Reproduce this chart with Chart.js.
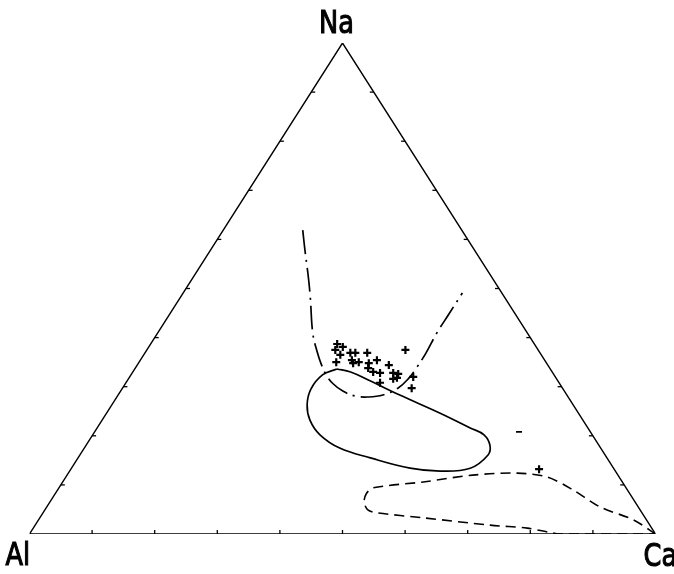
<!DOCTYPE html>
<html>
<head>
<meta charset="utf-8">
<script src="https://cdn.jsdelivr.net/npm/chart.js@4/dist/chart.umd.min.js"></script>
<style>
  html, body { margin: 0; padding: 0; background: #fff; }
  canvas { display: block; }
</style>
</head>
<body>
<canvas id="c" width="674" height="574"></canvas>
<script>
// Ternary diagram: Na (apex), Al (bottom-left), Ca (bottom-right). Values in %.
const vertexLabels = ["Na", "Al", "Ca"];
const tickValues = [10, 20, 30, 40, 50, 60, 70, 80, 90];

// Samples (crosses): Na % and Ca % (Al = 100 - Na - Ca)
const samplesNa = [38.7, 38.1, 37.5, 36.5, 35.0, 36.9, 36.9, 35.4, 34.8, 35.0, 36.9, 34.8, 35.4,
                   33.8, 33.0, 32.8, 34.4, 30.8, 32.8, 32.6, 31.6, 31.8, 37.5, 32.0, 29.7, 13.2];
const samplesCa = [29.8, 31.0, 30.1, 31.4, 31.5, 32.8, 33.6, 33.8, 34.3, 35.1, 35.5, 36.8, 37.8,
                   37.2, 38.4, 39.6, 40.2, 40.6, 41.7, 42.6, 42.3, 42.8, 41.3, 45.3, 46.2, 74.8];
// Single sample drawn as a short dash
const dashNa = [20.8];
const dashCa = [67.8];

// Solid closed field
const fieldNa = [33.6, 33.0, 31.2, 28.3, 24.6, 21.6, 20.2, 18.1, 16.1, 13.4, 12.8, 13.4, 15.5,
                 17.5, 20.2, 23.2, 26.3, 29.5, 32.4, 33.6];
const fieldCa = [32.3, 34.8, 38.8, 45.0, 53.3, 59.6, 62.5, 64.5, 65.2, 63.7, 59.2, 54.1, 46.7,
                 40.8, 36.3, 33.2, 31.2, 30.2, 30.6, 32.3];

// Dash-dot U-shaped trend
const trendNa = [61.9, 57.8, 52.8, 48.3, 40.9, 37.1, 34.6, 32.4, 30.6, 29.1, 28.1, 27.9, 28.3,
                 29.7, 31.6, 34.0, 36.9, 40.9, 44.6, 49.1];
const trendCa = [12.7, 15.1, 18.1, 20.7, 24.8, 27.4, 29.3, 31.2, 33.2, 35.5, 38.0, 40.1, 42.3,
                 44.0, 44.7, 44.9, 44.9, 44.6, 44.6, 44.6];

// Dashed closed field near Ca
const dashedNa = [0, 2.9, 5.5, 9.0, 11.6, 12.4, 12.0, 10.6, 9.4, 8.2, 6.5, 4.9, 4.3, 3.3, 1.8,
                  1.2, 0.4, 0, 0];
const dashedCa = [100, 95.0, 88.4, 82.3, 76.9, 71.7, 64.8, 57.6, 50.2, 49.7, 50.2, 51.6, 53.4,
                  61.2, 72.7, 78.9, 82.6, 84.7, 100];

function toXY(na, ca) { return { x: ca + na / 2, y: na }; }
function series(naArr, caArr) { return naArr.map((na, i) => toXY(na, caArr[i])); }

const triangle = [toXY(0, 0), toXY(0, 100), toXY(100, 0), toXY(0, 0)];

function label(ctx, text, x, y, align) {
  ctx.save();
  ctx.translate(x, y);
  ctx.scale(0.8, 1);
  ctx.textAlign = align;
  ctx.fillText(text, 0, 0);
  ctx.lineWidth = 1.2;
  ctx.strokeText(text, 0, 0);
  ctx.restore();
}

const decor = {
  id: 'decor',
  afterDatasetsDraw(chart) {
    const ctx = chart.ctx, xs = chart.scales.x, ys = chart.scales.y;
    const P = (p) => [xs.getPixelForValue(p.x), ys.getPixelForValue(p.y)];
    ctx.save();
    ctx.strokeStyle = '#000';
    ctx.lineWidth = 1.3;
    const L = 4;
    tickValues.forEach(t => {
      let [bx, by] = P(toXY(0, t));
      ctx.beginPath(); ctx.moveTo(bx, by); ctx.lineTo(bx, by - L); ctx.stroke();
      let [lx, ly] = P(toXY(t, 0));
      ctx.beginPath(); ctx.moveTo(lx, ly); ctx.lineTo(lx + L, ly); ctx.stroke();
      let [rx, ry] = P(toXY(t, 100 - t));
      ctx.beginPath(); ctx.moveTo(rx, ry); ctx.lineTo(rx - L, ry); ctx.stroke();
    });
    ctx.fillStyle = '#000';
    ctx.font = '32px "DejaVu Sans", sans-serif';
    ctx.textBaseline = 'alphabetic';
    const [nx, ny] = P(toXY(100, 0));
    label(ctx, vertexLabels[0], nx - 6, ny - 10, 'center');
    const [ax, ay] = P(toXY(0, 0));
    label(ctx, vertexLabels[1], ax - 24, ay + 31, 'left');
    const [cx, cy] = P(toXY(0, 100));
    label(ctx, vertexLabels[2], cx - 12, cy + 32, 'left');
    ctx.restore();
  }
};

new Chart(document.getElementById('c'), {
  type: 'scatter',
  data: {
    datasets: [
      { data: triangle, showLine: true, borderColor: '#000', borderWidth: 1.4, pointRadius: 0, tension: 0 },
      { data: series(fieldNa, fieldCa), showLine: true, borderColor: '#000', borderWidth: 1.7, pointRadius: 0, tension: 0.4 },
      { data: series(trendNa, trendCa), showLine: true, borderColor: '#000', borderWidth: 1.7, pointRadius: 0, tension: 0.4,
        borderDash: [24, 6, 2, 6] },
      { data: series(dashedNa, dashedCa), showLine: true, borderColor: '#000', borderWidth: 1.6, pointRadius: 0, tension: 0.3,
        borderDash: [10, 6] },
      { data: series(samplesNa, samplesCa), showLine: false, pointStyle: 'cross', pointRadius: 4, borderColor: '#000',
        borderWidth: 2.2, backgroundColor: '#000' },
      { data: series(dashNa, dashCa), showLine: false, pointStyle: 'line', pointRadius: 3, borderColor: '#000', borderWidth: 1.8 }
    ]
  },
  options: {
    responsive: false,
    animation: false,
    layout: { padding: { left: 29.5, right: 18.5, top: 43, bottom: 40 } },
    plugins: { legend: { display: false }, tooltip: { enabled: false } },
    scales: {
      x: { type: 'linear', min: 0, max: 100, display: false },
      y: { type: 'linear', min: 0, max: 100, display: false }
    }
  },
  plugins: [decor]
});
</script>
</body>
</html>
